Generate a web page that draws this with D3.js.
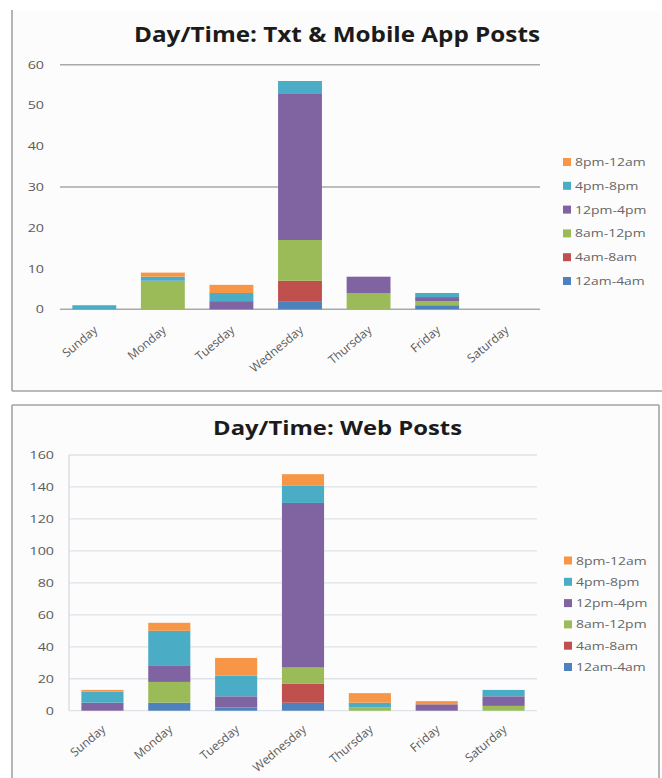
<!DOCTYPE html>
<html>
<head>
<meta charset="utf-8">
<script src="https://cdn.jsdelivr.net/npm/d3@7/dist/d3.min.js"></script>
<style>
  html, body { margin: 0; padding: 0; background: #ffffff; }
  svg { display: block; }
  text { font-family: "Open Sans", "DejaVu Sans", sans-serif; }
</style>
</head>
<body>
<svg id="chart" width="662" height="778"></svg>
<script>
// Days of the week and the six four-hour time slots
const days = ["Sunday", "Monday", "Tuesday", "Wednesday", "Thursday", "Friday", "Saturday"];
const slots = ["12am-4am", "4am-8am", "8am-12pm", "12pm-4pm", "4pm-8pm", "8pm-12am"];
const slotColors = ["#4F81BD", "#C0504D", "#9BBB59", "#8064A2", "#4BACC6", "#F79646"];

// Txt & mobile app posts, one array per time slot (Sunday..Saturday)
const txt12am4am = [0, 0, 0, 2, 0, 1, 0];
const txt4am8am  = [0, 0, 0, 5, 0, 0, 0];
const txt8am12pm = [0, 7, 0, 10, 4, 1, 0];
const txt12pm4pm = [0, 0, 2, 36, 4, 1, 0];
const txt4pm8pm  = [1, 1, 2, 3, 0, 1, 0];
const txt8pm12am = [0, 1, 2, 0, 0, 0, 0];
const txtTicks = [0, 10, 20, 30, 40, 50, 60];
const txtGridTicks = [0, 30, 60];

// Web posts, one array per time slot (Sunday..Saturday)
const web12am4am = [0, 5, 2, 5, 0, 0, 0];
const web4am8am  = [0, 0, 0, 12, 0, 0, 0];
const web8am12pm = [0, 13, 0, 10, 2, 0, 3];
const web12pm4pm = [5, 10, 7, 103, 0, 4, 6];
const web4pm8pm  = [7, 22, 13, 11, 3, 0, 4];
const web8pm12am = [1, 5, 11, 7, 6, 2, 0];
const webTicks = [0, 20, 40, 60, 80, 100, 120, 140, 160];

const svg = d3.select("#chart");

// Excel-style text is rendered a little wide; stretch horizontally
const STRETCH = 1.3;

function buildRows(seriesList) {
  return days.map((day, i) => {
    const row = { day };
    slots.forEach((s, k) => { row[s] = seriesList[k][i]; });
    return row;
  });
}

function drawChart(cfg) {
  const g = svg.append("g");

  // panel background and frame
  g.append("rect")
    .attr("x", cfg.frame.x).attr("y", cfg.frame.y)
    .attr("width", cfg.frame.w).attr("height", cfg.frame.h)
    .attr("fill", "#fcfcfc");
  cfg.frame.edges.forEach(e => {
    g.append("line")
      .attr("x1", e[0]).attr("y1", e[1]).attr("x2", e[2]).attr("y2", e[3])
      .attr("stroke", "#a3a3a3").attr("stroke-width", 1.6);
  });

  // title
  g.append("text")
    .attr("x", cfg.title.x).attr("y", cfg.title.y)
    .attr("text-anchor", "middle")
    .attr("font-weight", "bold")
    .attr("font-size", cfg.title.size)
    .attr("fill", "#1b1b1b")
    .attr("textLength", cfg.title.len)
    .attr("lengthAdjust", "spacingAndGlyphs")
    .text(cfg.title.text);

  const x = d3.scaleBand().domain(days)
    .range([cfg.plot.x0, cfg.plot.x1])
    .paddingInner(cfg.padding).paddingOuter(cfg.padding / 2);
  const y = d3.scaleLinear().domain([0, cfg.ticks[cfg.ticks.length - 1]])
    .range([cfg.plot.y0, cfg.plot.y1]);

  // gridlines
  g.append("g").selectAll("line").data(cfg.gridTicks).join("line")
    .attr("x1", cfg.plot.x0).attr("x2", cfg.plot.x1)
    .attr("y1", d => y(d)).attr("y2", d => y(d))
    .attr("stroke", cfg.gridColor).attr("stroke-width", cfg.gridWidth);

  if (cfg.yAxisLine) {
    g.append("line")
      .attr("x1", cfg.plot.x0).attr("x2", cfg.plot.x0)
      .attr("y1", y(cfg.ticks[cfg.ticks.length - 1])).attr("y2", y(0))
      .attr("stroke", "#d4d8dc").attr("stroke-width", 1.2);
  }

  // y tick labels
  g.append("g").selectAll("text").data(cfg.ticks).join("text")
    .attr("transform", d => `translate(${cfg.yLabelX},${y(d) + 4}) scale(${STRETCH},1)`)
    .attr("text-anchor", "end")
    .attr("font-size", 11)
    .attr("fill", "#5a5a5a")
    .text(d => d);

  // stacked bars
  const stack = d3.stack().keys(slots);
  const layers = stack(buildRows(cfg.series));
  g.append("g").selectAll("g").data(layers).join("g")
    .attr("fill", (d, i) => slotColors[i])
    .selectAll("rect").data(d => d.filter(p => p[1] > p[0])).join("rect")
    .attr("x", p => x(p.data.day))
    .attr("width", x.bandwidth())
    .attr("y", p => y(p[1]))
    .attr("height", p => y(p[0]) - y(p[1]));

  // rotated day labels
  g.append("g").selectAll("text").data(days).join("text")
    .attr("transform", d =>
      `translate(${x(d) + x.bandwidth() / 2 + 4},${y(0) + cfg.labelDy}) rotate(-40)`)
    .attr("text-anchor", "end")
    .attr("font-size", 12)
    .attr("fill", "#5a5a5a")
    .text(d => d);

  // legend, latest slot on top
  const legendOrder = slots.map((s, i) => i).reverse();
  const lg = g.append("g").selectAll("g").data(legendOrder).join("g")
    .attr("transform", (d, i) => `translate(${cfg.legend.x},${cfg.legend.y + i * cfg.legend.step})`);
  lg.append("rect")
    .attr("x", 0).attr("y", -4).attr("width", 8).attr("height", 8)
    .attr("fill", d => slotColors[d]);
  lg.append("text")
    .attr("transform", `translate(12,4) scale(1.27,1)`)
    .attr("font-size", 11)
    .attr("fill", "#666666")
    .text(d => slots[d]);
}

drawChart({
  frame: { x: 12, y: 10, w: 648, h: 381,
           edges: [[12, 10, 12, 391], [12, 391, 662, 391]] },
  title: { text: "Day/Time: Txt & Mobile App Posts", x: 337, y: 42, size: 21, len: 406 },
  plot: { x0: 60, x1: 540, y0: 309.3, y1: 64.7 },
  padding: 0.36,
  ticks: txtTicks,
  gridTicks: txtGridTicks,
  gridColor: "#a9a9a9",
  gridWidth: 1.6,
  yAxisLine: false,
  yLabelX: 44,
  labelDy: 22,
  series: [txt12am4am, txt4am8am, txt8am12pm, txt12pm4pm, txt4pm8pm, txt8pm12am],
  legend: { x: 563, y: 162, step: 23.8 }
});

drawChart({
  frame: { x: 12, y: 405, w: 647, h: 380,
           edges: [[12, 405, 659, 405], [12, 405, 12, 778], [659, 405, 659, 778]] },
  title: { text: "Day/Time: Web Posts", x: 337.5, y: 435, size: 19, len: 249 },
  plot: { x0: 69, x1: 537, y0: 710.7, y1: 455 },
  padding: 0.37,
  ticks: webTicks,
  gridTicks: webTicks,
  gridColor: "#dde3e9",
  gridWidth: 1.3,
  yAxisLine: true,
  yLabelX: 54,
  labelDy: 20,
  series: [web12am4am, web4am8am, web8am12pm, web12pm4pm, web4pm8pm, web8pm12am],
  legend: { x: 564, y: 560.5, step: 21.3 }
});
</script>
</body>
</html>
